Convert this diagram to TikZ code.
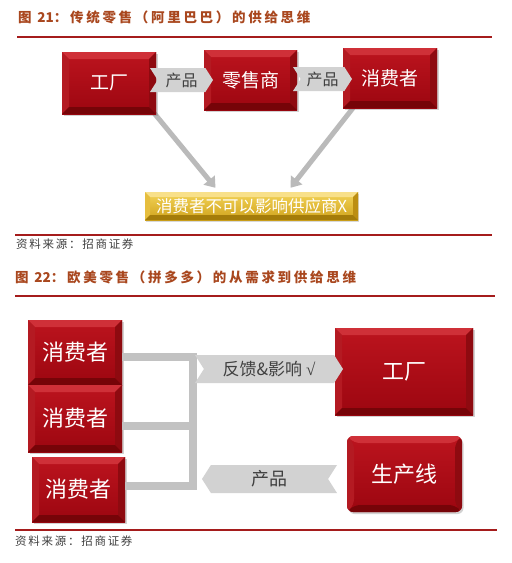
\documentclass[tikz,border=0pt]{standalone}
\usepackage{fontspec}
\newfontfamily\cjk{Noto Sans CJK SC}
\newfontfamily\chkfont{Liberation Serif}
\usetikzlibrary{shapes.symbols,shadows,arrows.meta,calc}
\definecolor{titlec}{HTML}{A9471E}
\definecolor{rulec}{HTML}{A51C1C}
\definecolor{srcc}{HTML}{404040}
\definecolor{redtop}{HTML}{BC141E}
\definecolor{redbot}{HTML}{9C0610}
\definecolor{bvT}{HTML}{CF3038}
\definecolor{bvL}{HTML}{B41A22}
\definecolor{bvR}{HTML}{8E0A10}
\definecolor{bvB}{HTML}{760408}
\definecolor{goldtop}{HTML}{F4D458}
\definecolor{goldbot}{HTML}{CFA21C}
\definecolor{gvT}{HTML}{F8E08A}
\definecolor{gvL}{HTML}{E6BE3E}
\definecolor{gvR}{HTML}{BC8E12}
\definecolor{gvB}{HTML}{A47C0A}
\definecolor{chevc}{HTML}{D2D2D2}
\definecolor{linec}{HTML}{BABABA}
\definecolor{busc}{HTML}{C2C2C2}
\newcommand\bevelfill[5]{%
 \fill[#1] (path picture bounding box.north west) -- (path picture bounding box.north east) -- ([shift={(-#5,-#5)}]path picture bounding box.north east) -- ([shift={(#5,-#5)}]path picture bounding box.north west) -- cycle;
 \fill[#2] (path picture bounding box.north west) -- ([shift={(#5,-#5)}]path picture bounding box.north west) -- ([shift={(#5,#5)}]path picture bounding box.south west) -- (path picture bounding box.south west) -- cycle;
 \fill[#3] (path picture bounding box.north east) -- ([shift={(-#5,-#5)}]path picture bounding box.north east) -- ([shift={(-#5,#5)}]path picture bounding box.south east) -- (path picture bounding box.south east) -- cycle;
 \fill[#4] (path picture bounding box.south west) -- ([shift={(#5,#5)}]path picture bounding box.south west) -- ([shift={(-#5,#5)}]path picture bounding box.south east) -- (path picture bounding box.south east) -- cycle;
}
\newcommand\nols[1]{{\addfontfeature{LetterSpace=0}#1}}
\tikzset{
 redbox/.style={inner sep=0pt, top color=redtop, bottom color=redbot,
   drop shadow={opacity=.35,shadow xshift=1.5pt,shadow yshift=-2pt},
   path picture={\bevelfill{bvT}{bvL}{bvR}{bvB}{7pt}},
   text=white, font=\cjk\fontsize{19}{19}\selectfont},
 bigtext/.style={font=\cjk\fontsize{22}{22}\selectfont},
 goldbox/.style={inner sep=0pt, top color=goldtop, bottom color=goldbot,
   drop shadow={opacity=.3,shadow xshift=1pt,shadow yshift=-1.5pt},
   path picture={\bevelfill{gvT}{gvL}{gvR}{gvB}{5pt}},
   text=white, font=\cjk\fontsize{16.5}{16.5}\selectfont},
 chev/.style={signal, fill=chevc, draw=none, inner sep=0pt, signal pointer angle=115,
   text=srcc, font=\cjk\fontsize{16}{16}\selectfont},
 rulel/.style={draw=rulec, line width=1.3pt},
 title/.style={anchor=west, inner sep=0pt, text=titlec, font=\cjk\bfseries\fontsize{13.5}{14}\selectfont\addfontfeature{LetterSpace=20}},
 src/.style={anchor=west, inner sep=0pt, text=srcc, font=\cjk\fontsize{11.5}{12}\selectfont\addfontfeature{LetterSpace=15}},
 grayarrow/.style={draw=linec, line width=5pt, -{Triangle[length=10pt,width=14pt]}},
 bus/.style={draw=busc, line width=8pt, line join=miter},
}
\begin{document}
\begin{tikzpicture}[x=1pt,y=-1pt]
\useasboundingbox[fill=white] (0,0) rectangle (512,563);
% ---------- figure 21 ----------
\node[title] (t1) at (18,17.5) {图 \nols{21}：传统零售（阿里巴巴）的供给思维};
\draw[rulel] (17,37) coordinate (r1a) -- (492,37) coordinate (r1b);
\node[goldbox, minimum width=213pt, minimum height=28pt] (g) at (251.5,206) {消费者不可以影响供应商X};
\coordinate (la) at (154,113);
\coordinate (ra) at (353,108);
\draw[grayarrow] (la) -- ($(g.north)+(-36,-4)$);
\draw[grayarrow] (ra) -- ($(g.north)+(39,-4)$);
\node[redbox, minimum width=94pt, minimum height=62pt] (f1) at (109,83) {工厂};
\node[redbox, minimum width=93pt, minimum height=60pt] (s1) at (250.5,80) {零售商};
\node[redbox, minimum width=94pt, minimum height=60pt] (c1) at (390,78) {消费者};
\node[chev, signal to=east, signal from=west, minimum width=63pt, minimum height=24pt] (ch1) at (181.5,80) {产品};
\node[chev, signal to=east, signal from=west, minimum width=59pt, minimum height=24pt] (ch2) at (322.5,79) {产品};
\draw[rulel] (15,235) coordinate (r2a) -- (492,235) coordinate (r2b);
\node[src] (s21) at (16,244) {资料来源：招商证券};
% ---------- figure 22 ----------
\node[title] (t2) at (15,277) {图 \nols{22}：欧美零售（拼多多）的从需求到供给思维};
\draw[rulel] (15,296) coordinate (r3a) -- (495,296) coordinate (r3b);
\coordinate (j1) at (193,357);
\coordinate (j2) at (193,426);
\coordinate (j3) at (193,486);
\node[redbox, bigtext, minimum width=94pt, minimum height=65pt] (b1) at (75,352.5) {消费者};
\node[redbox, bigtext, minimum width=94pt, minimum height=67pt] (b2) at (75,418.5) {消费者};
\node[redbox, bigtext, minimum width=93pt, minimum height=65pt] (b3) at (78.5,489.5) {消费者};
\draw[bus] (b1.east |- j1) -- (j1) -- (j3) -- (b3.east |- j3);
\draw[bus] (b2.east |- j2) -- (j2);
\node[redbox, bigtext, minimum width=138pt, minimum height=87pt] (F) at (404,371.5) {工厂};
\node[redbox, bigtext, rounded corners=6pt, minimum width=115pt, minimum height=76pt] (P) at (404.5,474) {生产线};
\node[chev, signal to=east, signal from=west, minimum width=148pt, minimum height=28pt, font=\cjk\fontsize{17}{17}\selectfont] (fb) at (269,369) {反馈\&影响 {\chkfont √}};
\node[chev, signal to=west, signal from=east, minimum width=135pt, minimum height=28pt, font=\cjk\fontsize{18}{18}\selectfont] (pr) at (269.5,479) {产品};
\draw[rulel] (15,530) coordinate (r4a) -- (497,530) coordinate (r4b);
\node[src] (s22) at (15,541) {资料来源：招商证券};
\end{tikzpicture}
\end{document}
